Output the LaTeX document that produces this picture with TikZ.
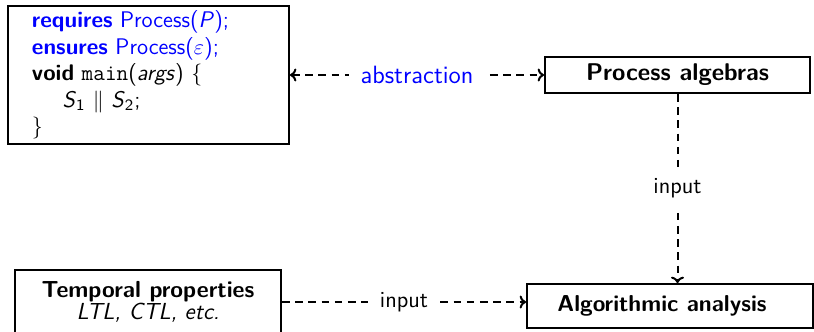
\documentclass[tikz,border=0pt]{standalone}
\usepackage{fontspec}
\usetikzlibrary{arrows.meta}
\definecolor{kwblue}{RGB}{0,0,255}
\newcommand{\basefont}{\fontsize{11.5}{12.75}\selectfont\sffamily}
\begin{document}
\begin{tikzpicture}[x=0.5pt,y=-0.5pt,
  font=\basefont,
  box/.style={draw, line width=0.95pt, inner sep=0pt},
  conn/.style={line width=1pt, dash pattern=on 3.8pt off 2.8pt, -{To[length=3.2pt,width=6.5pt]}},
  bothconn/.style={conn, {To[length=3.2pt,width=6.5pt]}-{To[length=3.2pt,width=6.5pt]}},
  lbl/.style={fill=white, inner xsep=6pt, inner ysep=6pt}]
\useasboundingbox (0,0) rectangle (814,332);

\node[box, minimum width=140.5pt, minimum height=69pt, text width=116.5pt, align=left,
      font=\fontsize{11.3}{13.2}\selectfont\sffamily] (code) at (148.5,75)
 {{\color{kwblue}\textbf{requires} Process(\textit{P});}\\
  {\color{kwblue}\textbf{ensures} Process($\varepsilon$);}\\
  \textbf{void} \texttt{main}(\textit{args}) $\{$\\
  \hspace*{1.35em}\textit{S}\textsubscript{1} $\parallel$ \textit{S}\textsubscript{2};\\
  $\}$};

\node[box, minimum width=132.5pt, minimum height=18pt, font=\fontsize{12.1}{13}\selectfont\sffamily\bfseries] (proc) at (677.5,75) {Process algebras};

\node[box, minimum width=143pt, minimum height=22pt, font=\basefont\bfseries] (algo) at (670,306) {Algorithmic analysis\hspace*{8pt}};

\node[box, minimum width=133pt, minimum height=32pt, align=center, font=\fontsize{11.6}{11}\selectfont\sffamily] (temp) at (148,302)
 {\textbf{Temporal properties}\\ \textit{LTL, CTL, etc.}};

\draw[bothconn] (code.east) -- (proc.west) node[midway, lbl, text=kwblue, font=\fontsize{12.5}{13}\selectfont\sffamily] (abs) {abstraction};
\draw[conn] (proc.south) -- (proc.south |- algo.north) node[midway, lbl] (in1) {input};
\draw[conn] (temp.east) -- (temp.east -| algo.west) node[midway, lbl] (in2) {input};
\end{tikzpicture}
\end{document}
